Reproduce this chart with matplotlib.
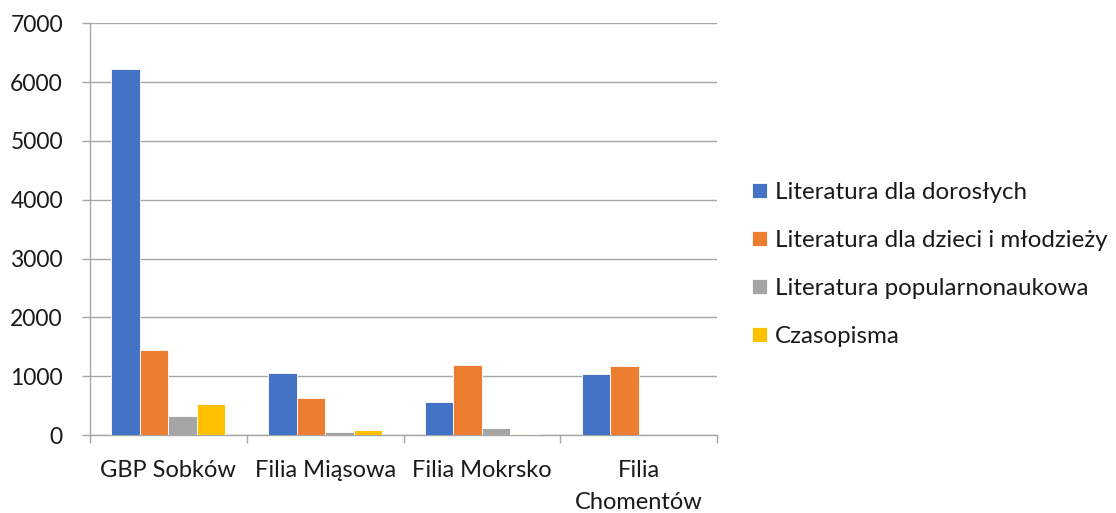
import matplotlib
matplotlib.use("Agg")
import matplotlib.pyplot as plt
import numpy as np

categories = ["GBP Sobków", "Filia Miąsowa", "Filia Mokrsko", "Filia\nChomentów"]
series_names = ["Literatura dla dorosłych", "Literatura dla dzieci i młodzieży",
                "Literatura popularnonaukowa", "Czasopisma"]
dorosli = [6220, 1055, 555, 1030]
dzieci = [1450, 625, 1190, 1180]
popularno = [330, 57, 120, 0]
czasopisma = [525, 80, 22, 0]
yticks = [0, 1000, 2000, 3000, 4000, 5000, 6000, 7000]

colors = ["#4472C4", "#ED7D31", "#A5A5A5", "#FFC000"]
plt.rcParams['font.family'] = ['Lato', 'DejaVu Sans']

fig = plt.figure(figsize=(11.16, 5.13), dpi=100)
ax = fig.add_axes([90/1116, 1-435/513, (717-90)/1116, (435-23.3)/513])

values = [dorosli, dzieci, popularno, czasopisma]
x = np.arange(len(categories))
w = 0.182
for i, (vals, name, c) in enumerate(zip(values, series_names, colors)):
    ax.bar(x + (i - 1.5) * w, vals, w, color=c, label=name, zorder=3,
           edgecolor='white', linewidth=0.6)

ax.set_xlim(-0.5, 3.5)
ax.set_ylim(0, 7000)
ax.set_yticks(yticks)
ax.set_yticklabels([str(v) for v in yticks], fontsize=16.5, color="#1a1a1a")
ax.yaxis.grid(True, color="#A6A6A6", linewidth=1.0, zorder=0)
ax.set_axisbelow(True)

for s in ["top", "right"]:
    ax.spines[s].set_visible(False)
ax.spines["left"].set_color("#A6A6A6")
ax.spines["bottom"].set_color("#A6A6A6")
ax.spines["left"].set_linewidth(1.0)
ax.spines["bottom"].set_linewidth(1.0)

ax.set_xticks([-0.5, 0.5, 1.5, 2.5, 3.5])
ax.set_xticklabels([])
ax.set_xticks(x, minor=True)
ax.set_xticklabels(categories, minor=True, fontsize=17, color="#1a1a1a",
                   linespacing=1.65)
ax.tick_params(axis='x', which='minor', length=0, pad=18)
ax.tick_params(axis='x', which='major', length=6, color="#A6A6A6", width=1.0)
ax.tick_params(axis='y', length=6, color="#A6A6A6", width=1.0, pad=13.5)

leg = fig.legend(loc='upper left', bbox_to_anchor=(752/1116, 1-182/513),
                 frameon=False, fontsize=17.4, handlelength=0.6, handleheight=0.6,
                 handletextpad=0.35, labelspacing=1.12, borderaxespad=0,
                 borderpad=0)
for t in leg.get_texts():
    t.set_color("#1a1a1a")

fig.savefig("out.png", dpi=100)
